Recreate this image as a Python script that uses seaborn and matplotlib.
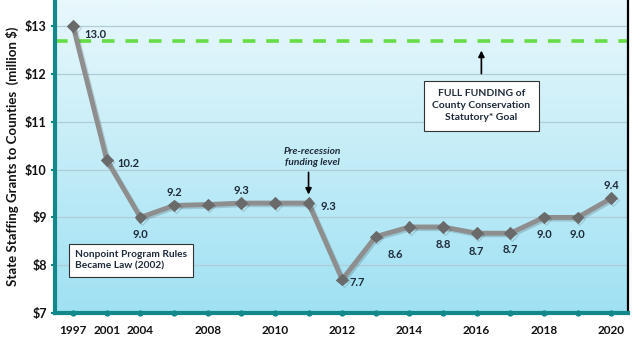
import numpy as np
import pandas as pd
import matplotlib
matplotlib.use("Agg")
import matplotlib.pyplot as plt
import matplotlib.patheffects as pe
from matplotlib.colors import LinearSegmentedColormap
import seaborn as sns

years = ["1997", "2001", "2004", "2006", "2008", "2009", "2010", "2011", "2012",
         "2013", "2014", "2015", "2016", "2017", "2018", "2019", "2020"]
tick_labels = ["1997", "2001", "2004", "", "2008", "", "2010", "", "2012",
               "", "2014", "", "2016", "", "2018", "", "2020"]
grants = [13.0, 10.2, 9.0, 9.25, 9.27, 9.3, 9.3, 9.3, 7.7,
          8.6, 8.8, 8.8, 8.67, 8.67, 9.0, 9.0, 9.4]
value_labels = ["13.0", "10.2", "9.0", "9.2", "", "9.3", "", "9.3", "7.7",
                "8.6", "", "8.8", "8.7", "8.7", "9.0", "9.0", "9.4"]
# label offsets in pixels (dx, dy) relative to point
label_offsets = [(22, -8), (22, -3), (0, -17), (0, 13), (0, 0), (0, 13), (0, 0), (20, -3), (15, -3),
                 (20, -18), (0, 0), (0, -18), (0, -18), (0, -16), (0, -17), (0, -17), (0, 13)]
goal = 12.7
y_ticks = [7, 8, 9, 10, 11, 12, 13]

sns.set_theme(style="white")
plt.rcParams["font.family"] = ["Lato", "DejaVu Sans"]

df = pd.DataFrame({"pos": np.arange(len(years)), "grant": grants})

fig = plt.figure(figsize=(6.4, 3.42), dpi=100)
fig.patch.set_facecolor("white")
ax = fig.add_axes([55 / 640, 1 - 313 / 342, (628 - 55) / 640, 313 / 342])

xmin, xmax = -0.54, 16.5
ymin, ymax = 7, 13.55

# gradient background (light at top, deeper blue at bottom)
grad = np.linspace(0, 1, 256).reshape(-1, 1)
cmap = LinearSegmentedColormap.from_list("bg", ["#e8f8fc", "#9fe1f3"])
ax.imshow(grad, extent=[xmin, xmax, ymin, ymax], origin="upper", aspect="auto",
          cmap=cmap, zorder=0)
ax.set_xlim(xmin, xmax)
ax.set_ylim(ymin, ymax)

for yv in y_ticks[1:]:
    ax.axhline(yv, color="#b0ccd6", lw=0.9, zorder=1)

ax.axhline(goal, color="#66dd44", lw=2.6, ls=(0, (3.5, 3)), zorder=2)

sns.lineplot(data=df, x="pos", y="grant", ax=ax, color="#8e8e8e", lw=3.5,
             marker="D", markersize=6, markerfacecolor="#6a6a6a",
             markeredgecolor="#6a6a6a", zorder=4,
             path_effects=[pe.SimpleLineShadow(offset=(1.2, -1.2), alpha=0.15, shadow_color="black"),
                           pe.Normal()])
ax.set_xlim(xmin, xmax)
ax.set_ylim(ymin, ymax)

for i, (lab, (dx, dy)) in enumerate(zip(value_labels, label_offsets)):
    if lab:
        ax.annotate(lab, (i, grants[i]), xytext=(dx * 0.72, dy * 0.72),
                    textcoords="offset points", ha="center", va="center",
                    fontsize=8, fontweight="bold", color="#1f2b3a", zorder=6)

teal = "#12888a"
ax.spines["top"].set_visible(False)
ax.spines["left"].set_color(teal)
ax.spines["left"].set_linewidth(3)
ax.spines["bottom"].set_color(teal)
ax.spines["bottom"].set_linewidth(3)
ax.spines["right"].set_color("black")
ax.spines["right"].set_linewidth(1.6)

ax.set_yticks(y_ticks)
ax.set_yticklabels([f"${v}" for v in y_ticks], fontsize=9, fontweight="bold", color="#111111")
ax.set_xticks(df["pos"])
ax.set_xticklabels(tick_labels, fontsize=8.5, fontweight="bold", color="#111111")
ax.tick_params(axis="y", which="major", left=True, length=3, width=1.5, color=teal, pad=3)
ax.tick_params(axis="x", which="major", bottom=False, pad=3)
ax.scatter(df["pos"], [ymin] * len(years), s=12, color=teal, zorder=7, clip_on=False)

ax.set_xlabel("")
ax.set_ylabel("State Staffing Grants to Counties  (million $)", fontsize=9.5,
              fontweight="bold", color="#111111", labelpad=4)

# annotation boxes
ax.text(0.05, 8.1, "Nonpoint Program Rules\nBecame Law (2002)", fontsize=7.3,
        fontweight="bold", color="#1f2b3a", ha="left", va="center", zorder=8,
        linespacing=1.4,
        bbox=dict(boxstyle="square,pad=0.6", fc="white", ec="#333333", lw=0.8))

ax.text(12.14, 11.34, "FULL FUNDING of\nCounty Conservation\nStatutory* Goal", fontsize=7.5,
        fontweight="bold", color="#1f2b3a", ha="center", va="center", zorder=8,
        linespacing=1.45,
        bbox=dict(boxstyle="square,pad=0.8", fc="white", ec="#333333", lw=0.8))
ax.annotate("", xy=(12.14, 12.55), xytext=(12.14, 11.95),
            arrowprops=dict(arrowstyle="-|>", color="black", lw=1.2, mutation_scale=9), zorder=8)

ax.text(7.1, 10.27, "Pre-recession\nfunding level", fontsize=7.3, fontstyle="italic",
        fontweight="bold", color="#1f2b3a", ha="center", va="center", zorder=8,
        linespacing=1.3)
ax.annotate("", xy=(7.0, 9.42), xytext=(7.0, 10.0),
            arrowprops=dict(arrowstyle="-|>", color="black", lw=1.2, mutation_scale=9), zorder=8)

fig.savefig("out.png", dpi=100, facecolor="white")
